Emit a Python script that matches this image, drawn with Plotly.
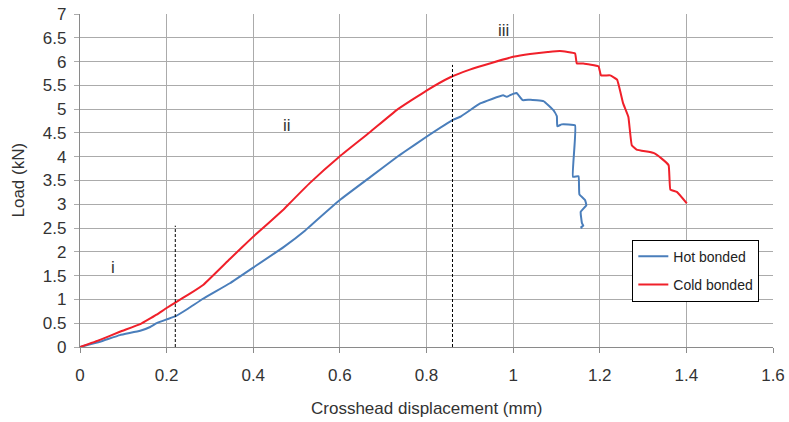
import plotly.graph_objects as go

hot_x = [0, 0.046, 0.092, 0.139, 0.162, 0.177, 0.2, 0.221, 0.25, 0.285, 0.346, 0.4, 0.47,
         0.52, 0.531, 0.6, 0.67, 0.731, 0.75, 0.8, 0.862, 0.878, 0.924, 0.977, 0.985, 1.0,
         1.008, 1.022, 1.04, 1.07, 1.093, 1.101, 1.102, 1.112, 1.143, 1.138, 1.151, 1.153,
         1.166, 1.169, 1.156, 1.159, 1.162, 1.157, 1.159]
hot_y = [0, 0.11, 0.25, 0.34, 0.42, 0.5, 0.58, 0.65, 0.81, 1.02, 1.34, 1.67, 2.1,
         2.45, 2.54, 3.09, 3.57, 3.99, 4.11, 4.42, 4.78, 4.84, 5.12, 5.29, 5.26, 5.32,
         5.34, 5.19, 5.2, 5.17, 4.98, 4.85, 4.64, 4.68, 4.66, 3.58, 3.59, 3.21,
         3.09, 2.98, 2.84, 2.6, 2.55, 2.52, 2.49]

cold_x = [0, 0.046, 0.092, 0.139, 0.162, 0.177, 0.2, 0.221, 0.25, 0.285, 0.346, 0.4, 0.47,
          0.485, 0.531, 0.6, 0.67, 0.731, 0.8, 0.855, 0.9, 0.95, 1.0, 1.039, 1.08, 1.108,
          1.143, 1.147, 1.162, 1.197, 1.203, 1.224, 1.24, 1.254, 1.266, 1.274, 1.285,
          1.324, 1.343, 1.359, 1.363, 1.378, 1.401]
cold_y = [0, 0.15, 0.32, 0.48, 0.6, 0.68, 0.82, 0.94, 1.1, 1.31, 1.85, 2.32, 2.89,
          3.03, 3.45, 4.01, 4.52, 4.98, 5.39, 5.67, 5.83, 5.97, 6.1, 6.16, 6.2, 6.22,
          6.17, 5.96, 5.96, 5.9, 5.71, 5.71, 5.62, 5.12, 4.84, 4.24, 4.15,
          4.08, 3.96, 3.82, 3.31, 3.26, 3.02]

dash_x = [0.22, 0.86]
dash_top = [2.55, 5.93]

labels = ["i", "ii", "iii"]
label_x = [0.077, 0.478, 0.977]
label_y = [1.68, 4.66, 6.66]

x_ticks = [0, 0.2, 0.4, 0.6, 0.8, 1, 1.2, 1.4, 1.6]
y_ticks = [0, 0.5, 1, 1.5, 2, 2.5, 3, 3.5, 4, 4.5, 5, 5.5, 6, 6.5, 7]

fig = go.Figure()
fig.add_trace(go.Scatter(x=hot_x, y=hot_y, mode="lines", name="Hot bonded", legendgroup="h",
                         line=dict(color="#4a7ebb", width=2, shape="spline", smoothing=0.3)))
fig.add_trace(go.Scatter(x=cold_x, y=cold_y, mode="lines", name="Cold bonded", legendgroup="c",
                         line=dict(color="#f0202a", width=2, shape="spline", smoothing=0.3)))

for dx, dt in zip(dash_x, dash_top):
    fig.add_shape(type="line", x0=dx, x1=dx, y0=0, y1=dt, xref="x", yref="y",
                  line=dict(color="black", width=1, dash="3px,2px"))

for t, lx, ly in zip(labels, label_x, label_y):
    fig.add_annotation(x=lx, y=ly, text=t, showarrow=False,
                       font=dict(size=17, color="#333333"))

fig.add_annotation(x=0.5, y=0, xref="paper", yref="paper", yanchor="top",
                   yshift=-50, text="Crosshead displacement (mm)", showarrow=False,
                   font=dict(size=17, color="#333333"))
fig.add_annotation(x=0, y=0.5, xref="paper", yref="paper", xanchor="center",
                   xshift=-62, textangle=-90, text="Load (kN)", showarrow=False,
                   font=dict(size=17, color="#333333"))

fig.update_layout(
    width=789, height=422,
    margin=dict(l=80, r=16, t=14, b=75),
    paper_bgcolor="white", plot_bgcolor="white",
    font=dict(family="Liberation Sans, Arial, sans-serif", size=17, color="#333333"),
    legend=dict(x=0.797, y=0.322, xanchor="left", yanchor="top",
                bgcolor="white", bordercolor="black", borderwidth=1,
                font=dict(size=14, color="#222222"), tracegroupgap=7,
                entrywidth=95, entrywidthmode="pixels"),
    xaxis=dict(range=[0, 1.6], tickvals=x_ticks, ticktext=[str(v) for v in x_ticks],
               showgrid=True, gridcolor="#ababab", gridwidth=1.3, automargin=False,
               zeroline=False, showline=True, linecolor="#8a8a8a", linewidth=1.3,
               ticks="outside", ticklen=5, tickcolor="#8a8a8a", ticklabelstandoff=7,
               ticklabeloverflow="allow", tickfont=dict(size=17)),
    yaxis=dict(range=[0, 7], tickvals=y_ticks, ticktext=[str(v) for v in y_ticks],
               showgrid=True, gridcolor="#ababab", gridwidth=1.3, automargin=False,
               zeroline=False, showline=True, linecolor="#8a8a8a", linewidth=1.3,
               ticks="outside", ticklen=5, tickcolor="#ababab", ticklabelstandoff=4,
               ticklabeloverflow="allow", tickfont=dict(size=17)),
)

fig.write_html("out.html", config={"displayModeBar": False},
               post_script="document.body.style.margin='0';document.body.style.overflow='hidden';")
